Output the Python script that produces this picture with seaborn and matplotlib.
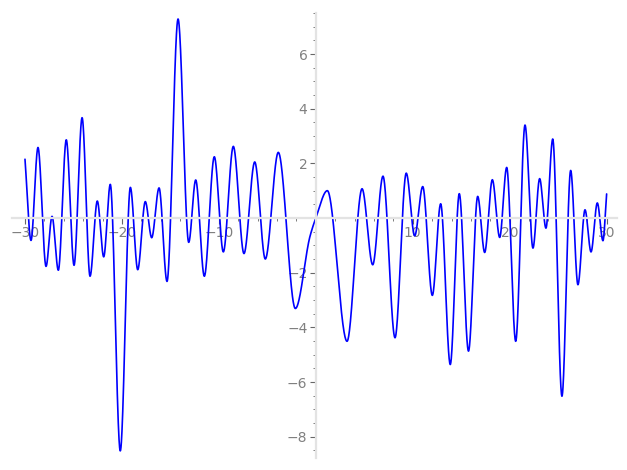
import numpy as np
import matplotlib
matplotlib.use("Agg")
import matplotlib.pyplot as plt
from matplotlib.ticker import MultipleLocator
import seaborn as sns

# turning points of the curve (x, y)
peak_x = [-30.0, -29.38, -28.66, -27.83, -27.21, -26.56, -25.74, -24.94, -24.11, -23.29,
          -22.54, -21.88, -21.20, -20.17, -19.13, -18.37, -17.59, -16.93, -16.17, -15.35,
          -14.21, -13.11, -12.39, -11.50, -10.47, -9.54, -8.51, -7.41, -6.30, -5.21,
          -3.87, -2.11, -0.60, 0.0, 1.19, 3.22, 4.77, 5.87, 6.93, 8.17,
          9.33, 10.20, 11.03, 12.02, 12.88, 13.87, 14.80, 15.75, 16.70, 17.42,
          18.21, 18.97, 19.69, 20.62, 21.58, 22.40, 23.09, 23.74, 24.44, 25.39,
          26.29, 27.04, 27.77, 28.39, 29.04, 29.62, 30.0]
peak_y = [2.15, -0.82, 2.58, -1.77, 0.06, -1.91, 2.86, -1.73, 3.67, -2.13,
          0.62, -1.42, 1.23, -8.52, 1.12, -1.89, 0.60, -0.72, 1.10, -2.32,
          7.28, -0.89, 1.39, -2.13, 2.24, -1.24, 2.62, -1.30, 2.05, -1.50,
          2.40, -3.31, -0.67, 0.0, 1.00, -4.51, 1.07, -1.71, 1.53, -4.38,
          1.64, -0.65, 1.15, -2.83, 0.52, -5.36, 0.89, -4.87, 0.79, -1.26,
          1.40, -0.71, 1.85, -4.51, 3.40, -1.10, 1.44, -0.37, 2.89, -6.52,
          1.74, -2.44, 0.30, -1.24, 0.55, -0.83, 0.88]

x_ticks = [-30, -20, -10, 10, 20, 30]
y_ticks = [-8, -6, -4, -2, 2, 4, 6]


def smooth(x, y, n=3000):
    # monotone cubic (PCHIP) drawing through the read points
    x = np.asarray(x, float)
    y = np.asarray(y, float)
    h = np.diff(x)
    d = np.diff(y) / h
    m = np.zeros_like(y)
    for k in range(1, len(x) - 1):
        if d[k - 1] * d[k] > 0:
            w1 = 2 * h[k] + h[k - 1]
            w2 = h[k] + 2 * h[k - 1]
            m[k] = (w1 + w2) / (w1 / d[k - 1] + w2 / d[k])
    m[0] = d[0]
    m[-1] = d[-1]
    xs = np.linspace(x[0], x[-1], n)
    idx = np.clip(np.searchsorted(x, xs) - 1, 0, len(x) - 2)
    t = (xs - x[idx]) / h[idx]
    h00 = 2 * t**3 - 3 * t**2 + 1
    h10 = t**3 - 2 * t**2 + t
    h01 = -2 * t**3 + 3 * t**2
    h11 = t**3 - t**2
    ys = h00 * y[idx] + h10 * h[idx] * m[idx] + h01 * y[idx + 1] + h11 * h[idx] * m[idx + 1]
    return xs, ys


sns.set_style("white")
plt.rcParams['font.family'] = ['DejaVu Sans']

fig = plt.figure(figsize=(6.27, 4.70), dpi=100)
ax = fig.add_axes([12 / 627, 12 / 470, 605 / 627, 445 / 470])

xs, ys = smooth(peak_x, peak_y)
sns.lineplot(x=xs, y=ys, sort=False, estimator=None, color="blue", linewidth=1.2, ax=ax)

ax.set_xlim(-31.34, 31.07)
ax.set_ylim(-8.78, 7.50)

for s in ["top", "right"]:
    ax.spines[s].set_visible(False)
ax.spines["left"].set_position(("data", 0))
ax.spines["bottom"].set_position(("data", 0))
for s in ["left", "bottom"]:
    ax.spines[s].set_color("#e3e3e3")
    ax.spines[s].set_linewidth(1.6)

ax.set_xticks(x_ticks)
ax.set_yticks(y_ticks)
ax.xaxis.set_minor_locator(MultipleLocator(2))
ax.yaxis.set_minor_locator(MultipleLocator(0.5))
ax.tick_params(which="both", bottom=True, left=True, top=False, right=False)
ax.tick_params(which="major", length=4, width=0.8, color="#666666",
               labelcolor="#808080", labelsize=10, direction="out", pad=2)
ax.tick_params(which="minor", length=2, width=0.6, color="#666666", direction="out")
ax.set_xlabel("")
ax.set_ylabel("")

fig.savefig("out.png", dpi=100)
